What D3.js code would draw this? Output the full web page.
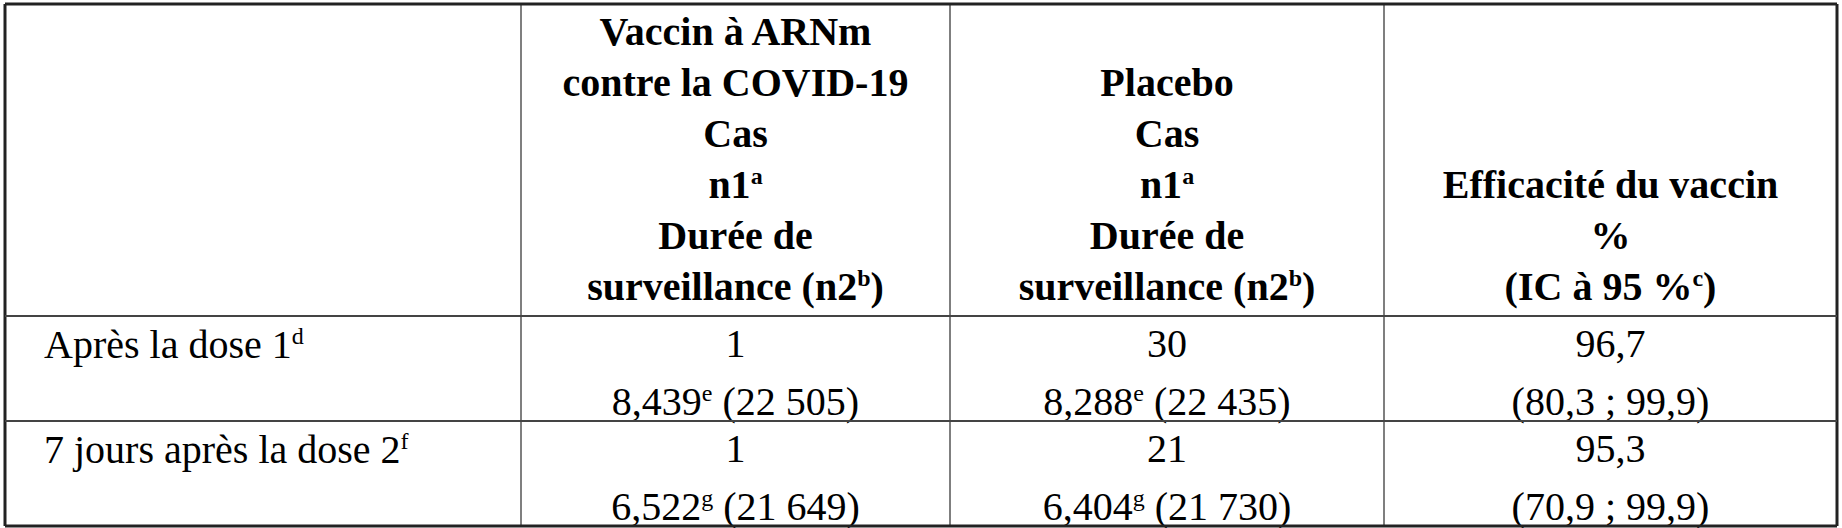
<!DOCTYPE html>
<html><head><meta charset="utf-8">
<script src="https://cdn.jsdelivr.net/npm/d3@7"></script>
<style>body{margin:0;background:#fff}svg{display:block}text{font-family:"Liberation Serif","Times New Roman",Times,"DejaVu Serif",serif}</style>
</head><body><svg id="c" width="1842" height="528"></svg>
<script>
// Data
const headers = [
  [],
  [["Vaccin à ARNm"],["contre la COVID-19"],["Cas"],["n1","a"],["Durée de"],["surveillance (n2","b",")"]],
  [["Placebo"],["Cas"],["n1","a"],["Durée de"],["surveillance (n2","b",")"]],
  [["Efficacité du vaccin"],["%"],["(IC à 95 %","c",")"]]
];
const rowLabels = [["Après la dose 1","d"],["7 jours après la dose 2","f"]];
const vaccineCases = ["1","1"];
const vaccineSurv = [["8,439","e"," (22 505)"],["6,522","g"," (21 649)"]];
const placeboCases = ["30","21"];
const placeboSurv = [["8,288","e"," (22 435)"],["6,404","g"," (21 730)"]];
const efficacy = ["96,7","95,3"];
const efficacyCI = ["(80,3 ; 99,9)","(70,9 ; 99,9)"];

// Layout
const svg = d3.select("#c");
const colEdges = [5,521,950,1384,1837];
const rowEdges = [4,316,421,526];
const lh = 51, fs = 40;

function addText(g, parts, x, y, anchor, bold){
  const t = g.append("text").attr("x",x).attr("y",y).attr("text-anchor",anchor)
    .attr("font-size",fs).attr("font-weight",bold?"bold":"normal").attr("fill","#000");
  parts.forEach((p,i)=>{
    if(i===1){
      t.append("tspan").attr("font-size",fs*0.6).attr("dy",-14).text(p);
    } else if(i===2){
      t.append("tspan").attr("dy",14).text(p);
    } else t.append("tspan").text(p);
  });
}
const g = svg.append("g");
headers.forEach((lines,ci)=>{
  const cx=(colEdges[ci]+colEdges[ci+1])/2;
  lines.forEach((ln,li)=>{
    const y = 300 - (lines.length-1-li)*lh;
    addText(g, ln, cx, y, "middle", true);
  });
});
const rowsData = rowLabels.map((l,i)=>({label:l, cells:[[[vaccineCases[i]],vaccineSurv[i]],[[placeboCases[i]],placeboSurv[i]],[[efficacy[i]],[efficacyCI[i]]]]}));
rowsData.forEach((r,ri)=>{
  const top=rowEdges[ri+1];
  addText(g, r.label, 44, top+42, "start", false);
  r.cells.forEach((cell,ci)=>{
    const cx=(colEdges[ci+1]+colEdges[ci+2])/2;
    cell.forEach((ln,li)=> addText(g, ln, cx, top+41+li*58, "middle", false));
  });
});
const lines = svg.append("g");
colEdges.forEach((x,i)=>lines.append("line").attr("x1",x).attr("x2",x).attr("y1",rowEdges[0]).attr("y2",rowEdges[3])
  .attr("stroke",(i===0||i===colEdges.length-1)?"#222":"#555").attr("stroke-width",(i===0||i===colEdges.length-1)?3:1.5));
rowEdges.forEach((y,i)=>lines.append("line").attr("x1",colEdges[0]).attr("x2",colEdges[4]).attr("y1",y).attr("y2",y)
  .attr("stroke",(i===0||i===3)?"#222":"#444").attr("stroke-width",(i===0||i===3)?3:2));
</script></body></html>
